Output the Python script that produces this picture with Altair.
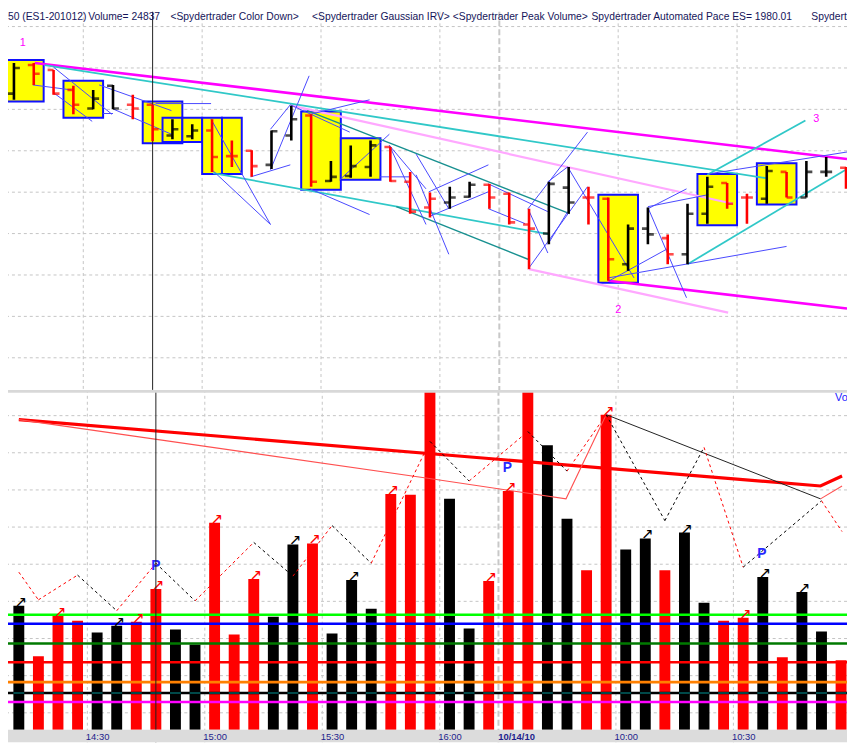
import altair as alt
import pandas as pd

# ---------------- data ----------------
bar_idx = list(range(1, 44))
bar_type = ['k','r','r','r','k','k','r','r','k','k','r','r','r','k','k','r','k','k','k','r','r','r',
            'k','k','r','r','r','k','k','r','r','k','k','r','k','k','r','r','k','r','k','k','r']
opens = [1173.38,1174.07,1173.95,1173.47,1173.02,1173.57,1173.11,1173.11,1172.37,1172.35,1172.49,
         1171.87,1172.00,1171.66,1172.37,1172.85,1171.27,1171.39,1171.61,1172.09,1171.25,1170.63,
         1170.75,1170.89,1171.18,1170.96,1170.22,1170.00,1171.11,1170.87,1170.84,1169.26,1170.12,
         1169.89,1169.50,1170.48,1171.22,1170.87,1170.84,1171.49,1170.87,1171.49,1171.59]
highs = [1174.12,1174.12,1173.95,1173.57,1173.47,1173.59,1173.35,1173.11,1172.76,1172.64,1172.76,
         1172.25,1172.01,1172.49,1173.09,1172.88,1171.75,1172.13,1172.25,1172.09,1171.49,1170.99,
         1171.13,1171.25,1171.20,1170.99,1170.60,1171.25,1171.61,1171.13,1170.87,1170.22,1170.63,
         1169.98,1170.72,1171.37,1171.22,1170.96,1171.63,1171.49,1171.75,1171.85,1171.61]
lows = [1173.23,1173.59,1173.35,1172.88,1173.00,1173.00,1172.76,1172.23,1172.28,1172.28,1171.49,
        1171.61,1171.37,1171.56,1172.25,1171.13,1171.25,1171.35,1171.37,1171.25,1170.48,1170.39,
        1170.60,1170.87,1170.60,1170.22,1169.14,1169.74,1170.48,1170.22,1168.86,1169.10,1169.74,
        1169.26,1169.26,1170.24,1170.60,1170.24,1170.72,1170.87,1170.87,1171.37,1171.08]
closes = [1174.00,1173.86,1173.38,1173.11,1173.26,1173.02,1173.02,1172.52,1172.52,1172.49,1171.85,
          1171.87,1171.63,1172.47,1172.76,1171.25,1171.37,1171.63,1172.13,1171.27,1170.53,1170.84,
          1170.87,1171.18,1170.87,1170.27,1170.12,1171.20,1170.75,1170.87,1169.38,1170.12,1169.98,
          1169.50,1170.48,1171.13,1170.72,1170.87,1171.51,1170.87,1171.49,1171.49,1171.13]
volumes = [44350,26260,40800,39030,34770,37250,38670,50380,35830,30510,74150,34060,53930,40450,
           66350,66700,34420,53570,43290,84440,84100,150000,82670,36190,53220,85510,160000,101830,
           75570,57120,112830,64570,68480,57120,70610,45410,39030,40090,54640,25900,49320,35130,24837]

# yellow pattern boxes
box_i1 = [0.5, 3.5, 7.5, 8.5, 9.5, 10.5, 11.5, 15.5, 17.5, 30.5, 35.5, 38.5]
box_i2 = [2.5, 5.5, 9.5, 9.5, 10.5, 11.5, 12.5, 17.5, 19.5, 32.5, 37.5, 40.5]
box_p1 = [1174.19,1173.69,1173.19,1172.80,1172.80,1172.80,1172.80,1172.95,1172.30,1170.94,1171.44,1171.70]
box_p2 = [1173.19,1172.80,1172.18,1172.21,1172.21,1171.44,1171.44,1171.06,1171.30,1168.81,1170.20,1170.70]

# trend lines in the price pane
seg_kind = ['magenta','magenta','pink','pink','cyan','cyan','cyan','cyan','teal','teal'] + ['blue'] * 37
seg_i1 = [2.05, 31.0, 15.0, 27.0, 2.55, 11.05, 35.0, 36.0, 15.8, 20.3,
          1.95, 3.0, 3.0, 5.3, 6.05, 8.15, 5.5, 10.95, 10.95, 12.95, 13.95, 13.95, 14.95, 15.95, 15.95,
          17.45, 19.45, 19.95, 19.95, 21.3, 21.3, 21.95, 21.95, 24.95, 24.95, 26.95, 26.95, 27.95, 28.95,
          26.95, 27.95, 31.05, 33.0, 33.0, 31.0, 36.05, 33.0]
seg_p1 = [1174.12, 1168.86, 1173.09, 1169.14, 1174.07, 1171.46, 1169.26, 1171.42, 1172.97, 1170.65,
          1173.59, 1174.02, 1173.40, 1173.59, 1173.00, 1173.14, 1172.90, 1172.76, 1171.56, 1171.37,
          1171.54, 1172.52, 1173.11, 1172.88, 1171.08, 1171.30, 1171.37, 1172.13, 1172.13, 1171.92,
          1171.42, 1171.01, 1170.41, 1171.20, 1170.60, 1170.60, 1169.14, 1171.25, 1171.61, 1170.60,
          1169.74, 1168.86, 1170.60, 1170.63, 1168.93, 1171.44, 1170.65]
seg_i2 = [43.05, 43.05, 37.3, 37.05, 38.95, 28.05, 43.05, 40.95, 29.05, 26.95,
          3.9, 5.95, 4.95, 8.95, 8.95, 10.95, 6.0, 13.95, 13.95, 14.95, 15.9, 14.95, 17.95, 18.95, 18.95,
          19.95, 20.95, 21.8, 21.8, 22.95, 22.95, 24.95, 24.95, 27.95, 26.8, 29.95, 29.95, 28.95, 32.3,
          27.95, 28.95, 34.05, 34.95, 34.95, 40.0, 43.05, 36.05]
seg_p2 = [1171.80, 1168.19, 1170.72, 1168.09, 1171.34, 1169.98, 1171.56, 1172.73, 1170.48, 1169.38,
          1173.47, 1172.88, 1172.71, 1172.97, 1172.40, 1173.14, 1172.90, 1170.22, 1170.22, 1171.66,
          1173.81, 1173.11, 1172.45, 1173.23, 1170.46, 1172.40, 1171.37, 1171.08, 1170.22, 1170.60,
          1169.50, 1171.66, 1171.01, 1170.53, 1170.24, 1172.45, 1171.13, 1171.61, 1168.93, 1169.53,
          1170.53, 1169.65, 1171.08, 1168.45, 1169.69, 1171.97, 1170.94]

pivot_txt = ['1', '2', '3']
pivot_i = [1.45, 31.5, 41.5]
pivot_p = [1174.60, 1168.16, 1172.76]

price_grid = [1175, 1174, 1173, 1172, 1171, 1170, 1169, 1168, 1167]
vol_grid = [112470, 99170, 85860, 72560, 59250, 45950, 32640, 19340, 6030]
vgrid_i = [4.5, 10.5, 16.5, 22.5, 31.5, 37.5]
session_i = [25.5]
cursor_i = [8]

label_i = [5, 11, 17, 23, 26.4, 32, 38]
label_txt = ['14:30', '15:00', '15:30', '16:00', '10/14/10', '10:00', '10:30']

# volume indicator levels
lvl_name = ['green', 'blue', 'dkgreen', 'red', 'orange', 'black', 'magenta']
lvl_v = [41160, 37960, 30870, 24130, 17030, 13130, 9930]

# volume zigzag (peak volume)
zz_i = [1, 2, 4, 6, 8, 10, 13, 15, 17, 19, 22, 24, 27, 29, 31, 34, 36, 38, 42, 43.05]
zz_v = [56410, 46480, 55350, 42580, 59610, 46120, 67060, 54990, 73090, 59610, 103250, 89050,
        106800, 92600, 112830, 74860, 101120, 58190, 81960, 70960]
zz_col = ['r','r','k','r','k','r','k','r','k','r','k','r','k','r','k','k','r','k','r']

# volume trend lines
thick_i = [1, 41.95, 43.05]
thick_v = [111050, 87280, 90830]
thin_i = [1, 21.8, 28.95, 31]
thin_v = [111050, 90120, 82670, 112830]
thin2_i = [41.95, 43.05]
thin2_v = [82670, 87280]
blk_i = [31, 41.95]
blk_v = [112830, 82670]

arrow_idx = [1, 3, 6, 7, 8, 11, 13, 15, 16, 18, 20, 25, 26, 31, 33, 35, 38, 39, 41]
p_i = [8, 25.95, 38.95]
p_v = [58540, 93670, 62800]

header_parts = ["50 (ES1-201012)", "Volume= 24837", "<Spydertrader Color Down>",
                "<Spydertrader Gaussian IRV>", "<Spydertrader Peak Volume>",
                "Spydertrader Automated Pace ES= 1980.01", "Spydertrader"]
header_x = [0, 81, 164, 307, 449, 589, 811]

# ---------------- layout ----------------
W = 847
H_TOP = 382
H_VOL = 356          # volume pane incl. the grey time band at its foot
BAND = 13
xs = alt.Scale(domain=[0.7, 43.05], nice=False, zero=False)
ps = alt.Scale(domain=[1166.225, 1175.364], nice=False, zero=False)
vs = alt.Scale(domain=[-4610, 121700], nice=False, zero=False)
bw = alt.Scale(domain=['k', 'r'], range=['#000000', '#ff0000'])

bars = pd.DataFrame({'i': bar_idx, 'o': opens, 'h': highs, 'l': lows, 'c': closes,
                     't': bar_type, 'v': volumes})

XT = alt.X('i:Q', scale=xs, axis=None)
grid_col = '#c4c4c4'

# ---- price pane ----
t_hgrid = alt.Chart(pd.DataFrame({'p': price_grid})).mark_rule(
    color=grid_col, strokeDash=[3, 3], strokeWidth=1, clip=True).encode(
    y=alt.Y('p:Q', scale=ps, axis=None))
t_vgrid = alt.Chart(pd.DataFrame({'i': vgrid_i})).mark_rule(
    color=grid_col, strokeDash=[3, 3], strokeWidth=1, clip=True).encode(x=XT)
t_sess = alt.Chart(pd.DataFrame({'i': session_i})).mark_rule(
    color='#c8c8c8', strokeDash=[6, 3], strokeWidth=2, clip=True).encode(x=XT)
t_boxes = alt.Chart(pd.DataFrame({'i': box_i1, 'i2': box_i2, 'p': box_p1, 'p2': box_p2})).mark_rect(
    fill='#ffff00', stroke='#1010ff', strokeWidth=2, clip=True).encode(
    x=XT, x2='i2:Q', y=alt.Y('p:Q', scale=ps, axis=None), y2='p2:Q')
kinds = ['magenta', 'pink', 'cyan', 'teal', 'blue']
t_segs = alt.Chart(pd.DataFrame({'k': seg_kind, 'i': seg_i1, 'p': seg_p1, 'i2': seg_i2, 'p2': seg_p2})).mark_rule(
    clip=True).encode(
    x=XT, x2='i2:Q', y=alt.Y('p:Q', scale=ps, axis=None), y2='p2:Q',
    color=alt.Color('k:N', scale=alt.Scale(domain=kinds,
                    range=['#ff00ff', '#ffa8ff', '#30c8c8', '#189090', '#4848ff']), legend=None),
    strokeWidth=alt.StrokeWidth('k:N', scale=alt.Scale(domain=kinds, range=[2.6, 1.0, 1.2, 1.2, 1.0]),
                                legend=None))
t_cursor = alt.Chart(pd.DataFrame({'i': cursor_i})).mark_rule(
    color='#202020', strokeWidth=1, clip=True).encode(x=XT)
t_hl = alt.Chart(bars).mark_rule(strokeWidth=2.6, clip=True).encode(
    x=XT, y=alt.Y('h:Q', scale=ps, axis=None), y2='l:Q',
    color=alt.Color('t:N', scale=bw, legend=None))
t_open = alt.Chart(bars).mark_tick(orient='horizontal', size=6, thickness=2.6, xOffset=-3, clip=True).encode(
    x=XT, y=alt.Y('o:Q', scale=ps, axis=None), color=alt.Color('t:N', scale=bw, legend=None))
t_close = alt.Chart(bars).mark_tick(orient='horizontal', size=6, thickness=2.6, xOffset=3, clip=True).encode(
    x=XT, y=alt.Y('c:Q', scale=ps, axis=None), color=alt.Color('t:N', scale=bw, legend=None))
t_piv = alt.Chart(pd.DataFrame({'i': pivot_i, 'p': pivot_p, 's': pivot_txt})).mark_text(
    color='#ff00ff', font='Liberation Sans', fontSize=11, clip=True).encode(
    x=XT, y=alt.Y('p:Q', scale=ps, axis=None), text='s:N')
t_head = alt.Chart(pd.DataFrame({'s': header_parts, 'hx': header_x})).mark_text(
    align='left', baseline='middle', font='Liberation Sans', fontSize=10.4,
    color='#15155a', clip=True).encode(
    x=alt.X('hx:Q', scale=alt.Scale(domain=[0, W], range=[0, W], nice=False, zero=False), axis=None),
    y=alt.value(6), text='s:N')

top = alt.layer(t_hgrid, t_vgrid, t_sess, t_boxes, t_segs, t_cursor, t_hl, t_open, t_close,
                t_piv, t_head).resolve_scale(color='independent', strokeWidth='independent',
                                             x='independent'
                ).properties(width=W, height=H_TOP)

# ---- volume pane ----
lab_expr = " : ".join([f"datum.value == {v} ? '{t}'" for v, t in zip(label_i, label_txt)]) + " : ''"
x_axis = alt.Axis(values=label_i, labelExpr=lab_expr, title=None, grid=False, ticks=False,
                  domain=False, offset=-BAND / 2, labelPadding=0, labelBaseline='middle',
                  labelFont='Liberation Sans', labelFontSize=9.5, labelColor='#1e1e8c',
                  labelOverlap=False, labelFlush=False, labelBound=False, zindex=2,
                  labelFontWeight={'condition': {'test': 'datum.value == 26.4', 'value': 'bold'},
                                   'value': 'normal'})
XB = alt.X('i:Q', scale=xs, axis=x_axis)
YV = alt.Y('v:Q', scale=vs, axis=None)

b_hgrid = alt.Chart(pd.DataFrame({'v': vol_grid})).mark_rule(
    color=grid_col, strokeDash=[3, 3], strokeWidth=1, clip=True).encode(y=YV)
b_vgrid = alt.Chart(pd.DataFrame({'i': vgrid_i})).mark_rule(
    color=grid_col, strokeDash=[3, 3], strokeWidth=1, clip=True).encode(x=XB)
b_sess = alt.Chart(pd.DataFrame({'i': session_i})).mark_rule(
    color='#c8c8c8', strokeDash=[6, 3], strokeWidth=2, clip=True).encode(x=XB)
b_bars = alt.Chart(bars).mark_bar(size=11, clip=True).encode(
    x=XB, y=YV, color=alt.Color('t:N', scale=bw, legend=None))
b_lvls = alt.Chart(pd.DataFrame({'n': lvl_name, 'v': lvl_v})).mark_rule(clip=True).encode(
    y=YV,
    color=alt.Color('n:N', scale=alt.Scale(domain=lvl_name,
                    range=['#00ff00', '#0000ff', '#007a00', '#ff0000', '#ff8000', '#000000', '#ff00ff']),
                    legend=None),
    strokeWidth=alt.StrokeWidth('n:N', scale=alt.Scale(domain=lvl_name,
                                range=[2.6, 2.6, 2.6, 2.6, 2.6, 1.2, 2.6]), legend=None))
b_cyan = alt.Chart(pd.DataFrame({'i': bar_idx, 'v': [lvl_v[5]] * len(bar_idx)})).mark_tick(
    orient='horizontal', size=11, thickness=1.2, color='#00d0d0', clip=True).encode(x=XB, y=YV)
b_thick = alt.Chart(pd.DataFrame({'i': thick_i, 'v': thick_v})).mark_line(
    color='#ff0000', strokeWidth=3.2, clip=True).encode(x=XB, y=YV)
b_thin = alt.Chart(pd.DataFrame({'i': thin_i, 'v': thin_v})).mark_line(
    color='#ff5050', strokeWidth=1.1, clip=True).encode(x=XB, y=YV)
b_thin2 = alt.Chart(pd.DataFrame({'i': thin2_i, 'v': thin2_v})).mark_line(
    color='#ff5050', strokeWidth=1.1, clip=True).encode(x=XB, y=YV)
b_blk = alt.Chart(pd.DataFrame({'i': blk_i, 'v': blk_v})).mark_line(
    color='#202020', strokeWidth=1, clip=True).encode(x=XB, y=YV)
zz = pd.DataFrame({'i': zz_i[:-1], 'v': zz_v[:-1], 'i2': zz_i[1:], 'v2': zz_v[1:], 't': zz_col})
b_zz = alt.Chart(zz).mark_rule(strokeDash=[3, 3], strokeWidth=1, clip=True).encode(
    x=XB, x2='i2:Q', y=YV, y2='v2:Q', color=alt.Color('t:N', scale=bw, legend=None))
arr = bars[bars['i'].isin(arrow_idx)]
b_arr = alt.Chart(arr).mark_text(text='\u2197', font='DejaVu Sans', fontSize=15, align='left',
                                 baseline='bottom', dx=-4, dy=4, clip=True).encode(
    x=XB, y=YV, color=alt.Color('t:N', scale=bw, legend=None))
b_p = alt.Chart(pd.DataFrame({'i': p_i, 'v': p_v})).mark_text(
    text='P', font='Liberation Sans', fontSize=14, fontWeight='bold', color='#2828ff',
    clip=True).encode(x=XB, y=YV)
b_cursor = alt.Chart(pd.DataFrame({'i': cursor_i})).mark_rule(
    color='#202020', strokeWidth=1, clip=True).encode(x=XB)
b_band = alt.Chart(pd.DataFrame({'d': [0]})).mark_rect(color='#dcdcdc', clip=True).encode(
    x=alt.value(0), x2=alt.value(W), y=alt.value(H_VOL - BAND), y2=alt.value(H_VOL))
b_div = alt.Chart(pd.DataFrame({'d': [0]})).mark_rule(color='#d8d8d8', strokeWidth=3, clip=True).encode(
    x=alt.value(0), x2=alt.value(W), y=alt.value(1.5))
b_vo = alt.Chart(pd.DataFrame({'s': ['Volume']})).mark_text(
    align='left', baseline='middle', font='Liberation Sans', fontSize=11, color='#2020ff',
    clip=True).encode(x=alt.value(835), y=alt.value(8), text='s:N')

bottom = alt.layer(b_hgrid, b_vgrid, b_sess, b_bars, b_lvls, b_cyan, b_thick, b_thin, b_thin2,
                   b_blk, b_zz, b_arr, b_p, b_cursor, b_band, b_div, b_vo).resolve_scale(
    color='independent', strokeWidth='independent').properties(width=W, height=H_VOL)

chart = alt.vconcat(top, bottom, spacing=0).properties(
    padding=0, background='white').configure_view(strokeWidth=0)

chart.save("out.html", embed_options={"renderer": "svg", "actions": False})
